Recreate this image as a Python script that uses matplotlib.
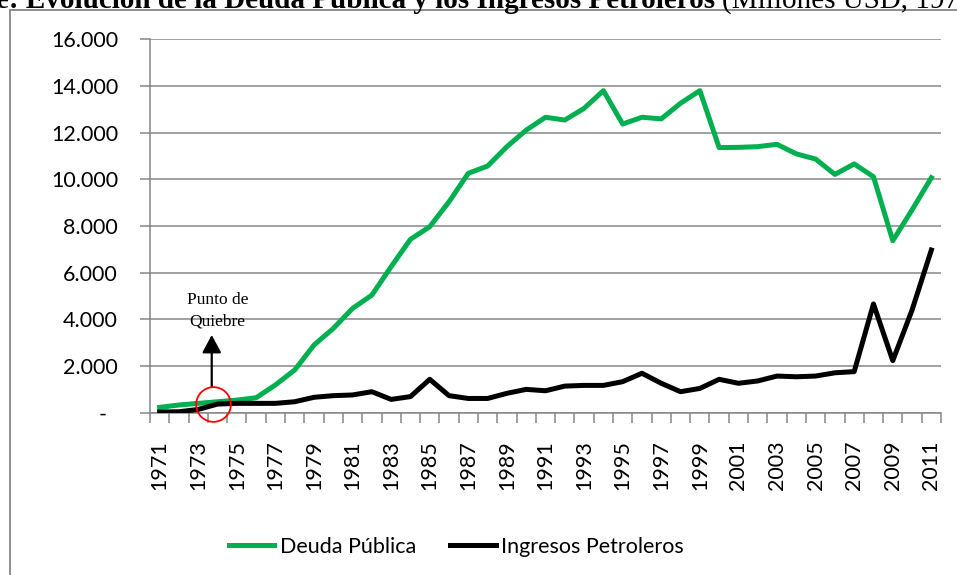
import matplotlib
matplotlib.use('Agg')
import matplotlib.pyplot as plt
from matplotlib.ticker import FixedLocator, FuncFormatter
from matplotlib.patches import Rectangle

# Data (millones USD)
years = list(range(1971, 2012))
deuda_publica = [
    230, 330, 400, 470, 540, 640, 1190, 1830, 2900, 3610,
    4470, 5040, 6260, 7430, 7970, 9040, 10260, 10570, 11400, 12110,
    12660, 12540, 13040, 13800, 12370, 12660, 12590, 13260, 13800, 11360,
    11370, 11400, 11500, 11090, 10870, 10210, 10660, 10110, 7370, 8690,
    10070,
]
ingresos_petroleros = [
    30, 40, 140, 370, 400, 400, 400, 470, 660, 730,
    760, 900, 570, 690, 1430, 730, 610, 610, 830, 1000,
    940, 1140, 1170, 1170, 1330, 1690, 1260, 900, 1040, 1430,
    1260, 1360, 1570, 1540, 1570, 1710, 1760, 4660, 2230, 4400,
    6970,
]
title_bold = "e: Evolución de la Deuda Pública y los Ingresos Petroleros "
title_units = "(Millones USD, 1971-2011)"

GREEN = '#00B050'
GRAY = '#868686'
SANS = ['Lato', 'DejaVu Sans']
SERIF = ['Liberation Serif', 'DejaVu Serif']

plt.rcParams['font.family'] = SANS

fig = plt.figure(figsize=(9.57, 5.75), dpi=100)
ax = fig.add_axes([150 / 957, 1 - 412.7 / 575, 791 / 957, 373.4 / 575])

x = list(range(len(years)))
ax.plot(x, deuda_publica, color=GREEN, lw=3.6, label='Deuda Pública', zorder=3)
ax.plot(x, ingresos_petroleros, color='black', lw=3.6, label='Ingresos Petroleros', zorder=3)

ax.set_xlim(-0.5, len(years) - 0.5)
ax.set_ylim(0, 16000)

# y axis: Excel style thousands with '.' and '-' for zero
ax.set_yticks(range(0, 16001, 2000))
ax.yaxis.set_major_formatter(FuncFormatter(
    lambda v, p: '-  ' if v == 0 else f'{int(v):,}'.replace(',', '.')))
ax.tick_params(axis='y', length=7, width=1.1, color=GRAY, pad=16, labelsize=15.5)
ax.grid(axis='y', color=GRAY, lw=1.1)
ax.set_axisbelow(True)

# x axis: labels every other year, tick marks between categories
ax.xaxis.set_major_locator(FixedLocator(x[::2]))
ax.set_xticklabels([str(y) for y in years[::2]], rotation=90)
ax.xaxis.set_minor_locator(FixedLocator([i - 0.5 for i in range(len(years) + 1)]))
ax.tick_params(axis='x', which='major', length=0, pad=20, labelsize=15.5)
ax.tick_params(axis='x', which='minor', length=7, width=1.1, color=GRAY)

for side in ('top', 'right'):
    ax.spines[side].set_visible(False)
for side in ('left', 'bottom'):
    ax.spines[side].set_color(GRAY)
    ax.spines[side].set_linewidth(1.1)

# "Punto de Quiebre" annotation
ax.plot([2.75], [370], marker='o', ms=25, mfc='none', mec='red', mew=1.3,
        zorder=4, clip_on=False)
ax.annotate('', xy=(2.7, 3330), xytext=(2.7, 1100),
            arrowprops=dict(arrowstyle='-|>,head_length=1.08,head_width=0.58',
                            mutation_scale=10, color='black', lw=1.6,
                            shrinkA=0, shrinkB=0))
ax.text(3.0, 4380, 'Punto de\nQuiebre', ha='center', va='center',
        family=SERIF, fontsize=12.5, linespacing=1.45)

# legend at the bottom
fig.legend(loc='center', bbox_to_anchor=(0.477, 1 - 547 / 575), ncol=2,
           frameon=False, fontsize=15.5, handlelength=2.1, handletextpad=0.25,
           columnspacing=1.6)

# chart border and clipped title (cut off at the top as in the source image)
fig.patches.append(Rectangle((10 / 957, -0.05), 1.1, 1 - 10 / 575 + 0.05,
                             transform=fig.transFigure, fill=False,
                             edgecolor=GRAY, lw=1.3))
t1 = fig.text(-4 / 957, 1 - 8 / 575, title_bold, ha='left', va='baseline',
              family=SERIF, fontsize=21, fontweight='bold')
fig.canvas.draw()
bb = t1.get_window_extent()
fig.text(bb.x1 / 957, 1 - 8 / 575, title_units, ha='left', va='baseline',
         family=SERIF, fontsize=21)

fig.savefig('out.png', dpi=100)
